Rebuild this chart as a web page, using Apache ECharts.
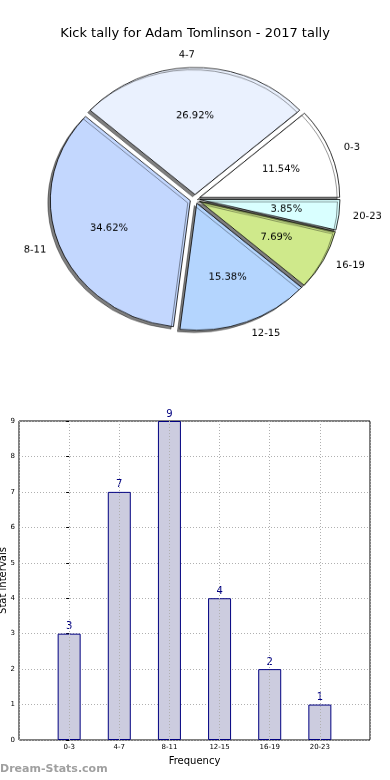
<!DOCTYPE html>
<html><head><meta charset="utf-8">
<script src="https://cdn.jsdelivr.net/npm/echarts@6/dist/echarts.min.js"></script>
<style>
html,body{margin:0;padding:0;background:#fff;}
#main{position:absolute;left:0;top:0;width:390px;height:780px;}
#pie{position:absolute;left:0;top:0;width:390px;height:400px;transform:scaleY(0.907);transform-origin:195px 199px;}
</style></head><body>
<div id="main"></div><div id="pie"></div>
<script>
const titleText = 'Kick tally for Adam Tomlinson - 2017 tally';
const categories = ['0-3', '4-7', '8-11', '12-15', '16-19', '20-23'];
const counts = [3, 7, 9, 4, 2, 1];
const sliceColors = ['#ffffff', '#eaf1fe', '#c3d7fe', '#b4d5fe', '#cfe98b', '#d9ffff'];
const xAxisName = 'Frequency';
const yAxisName = 'Stat intervals';
const watermark = 'Dream-Stats.com';

const total = counts.reduce((a, b) => a + b, 0);
const FONT = 'DejaVu Sans';

const pieChart = echarts.init(document.getElementById('pie'), null, {renderer: 'canvas'});
pieChart.setOption({
  animation: false,
  backgroundColor: 'transparent',
  series: [
    {
      type: 'pie', center: [195, 199], radius: [0, 140], clockwise: false, startAngle: 0.01,
      selectedMode: 'multiple', selectedOffset: 5, avoidLabelOverlap: false,
      emphasis: {disabled: true}, silent: true, z: 2,
      label: {show: true, position: 'outside', fontSize: 10, color: '#000', fontFamily: FONT,
        distanceToLabelLine: 0, bleedMargin: 0},
      labelLine: {show: false, length: 14, length2: 0},
      itemStyle: {borderColor: '#000', borderWidth: 0.8, shadowColor: 'rgba(0,0,0,0.5)',
        shadowOffsetX: -2.5, shadowOffsetY: 2.5, shadowBlur: 0},
      data: categories.map((c, i) => ({name: c, value: counts[i], selected: true,
        itemStyle: {color: sliceColors[i]}}))
    },
    {
      type: 'pie', center: [195, 199], radius: [28, 140], clockwise: false, startAngle: 0.01,
      selectedMode: 'multiple', selectedOffset: 5, avoidLabelOverlap: false,
      emphasis: {disabled: true}, silent: true, z: 3,
      label: {show: true, position: 'inside', fontSize: 10, color: '#000', fontFamily: FONT,
        formatter: p => (p.value / total * 100).toFixed(2) + '%'},
      labelLine: {show: false},
      itemStyle: {color: 'rgba(0,0,0,0)', borderWidth: 0},
      data: categories.map((c, i) => ({name: c, value: counts[i], selected: true}))
    }
  ]
});

const chart = echarts.init(document.getElementById('main'), null, {renderer: 'canvas'});
chart.setOption({
  animation: false,
  backgroundColor: '#fff',
  title: {text: titleText, left: 'center', top: 22,
    textStyle: {fontSize: 13, fontWeight: 'normal', color: '#000', fontFamily: FONT}},
  grid: {left: 19, right: 20, top: 421, bottom: 40, show: true, borderColor: '#000', borderWidth: 1,
    containLabel: false, outerBoundsMode: 'none'},
  xAxis: {
    type: 'value', min: -1, max: 6, interval: 1, z: 3,
    name: xAxisName, nameLocation: 'middle', nameGap: 16, nameMoveOverlap: false,
    nameTextStyle: {fontSize: 10, color: '#000', fontFamily: FONT},
    axisLine: {show: false}, axisTick: {show: false},
    axisLabel: {fontSize: 7, color: '#000', margin: 4, fontFamily: FONT,
      formatter: v => (categories[v] !== undefined ? categories[v] : '')},
    splitLine: {show: true, lineStyle: {color: '#b0b0b0', type: [1, 2], width: 1}}
  },
  yAxis: {
    type: 'value', min: 0, max: 9, interval: 1,
    name: yAxisName, nameLocation: 'middle', nameGap: 11, nameRotate: 90, nameMoveOverlap: false,
    nameTextStyle: {fontSize: 10, color: '#000', fontFamily: FONT},
    axisLine: {show: false}, axisTick: {show: true, length: 3, lineStyle: {color: '#000'}},
    axisLabel: {fontSize: 7, color: '#000', margin: 4, fontFamily: FONT},
    splitLine: {show: true, lineStyle: {color: '#b0b0b0', type: [1, 2], width: 1}}
  },
  graphic: [{type: 'text', left: 0, top: 764,
    style: {text: watermark, fill: '#a0a0a0', font: 'bold 11px "DejaVu Sans"'}}],
  series: [{
    type: 'bar', barWidth: 23, z: 2,
    data: counts.map((v, i) => [i, v]),
    itemStyle: {color: '#ccccdf', borderColor: '#000080', borderWidth: 1},
    label: {show: true, position: 'top', color: '#000080', fontSize: 10, distance: 2, fontFamily: FONT,
      formatter: p => String(p.value[1])}
  }]
});
</script>
</body></html>
